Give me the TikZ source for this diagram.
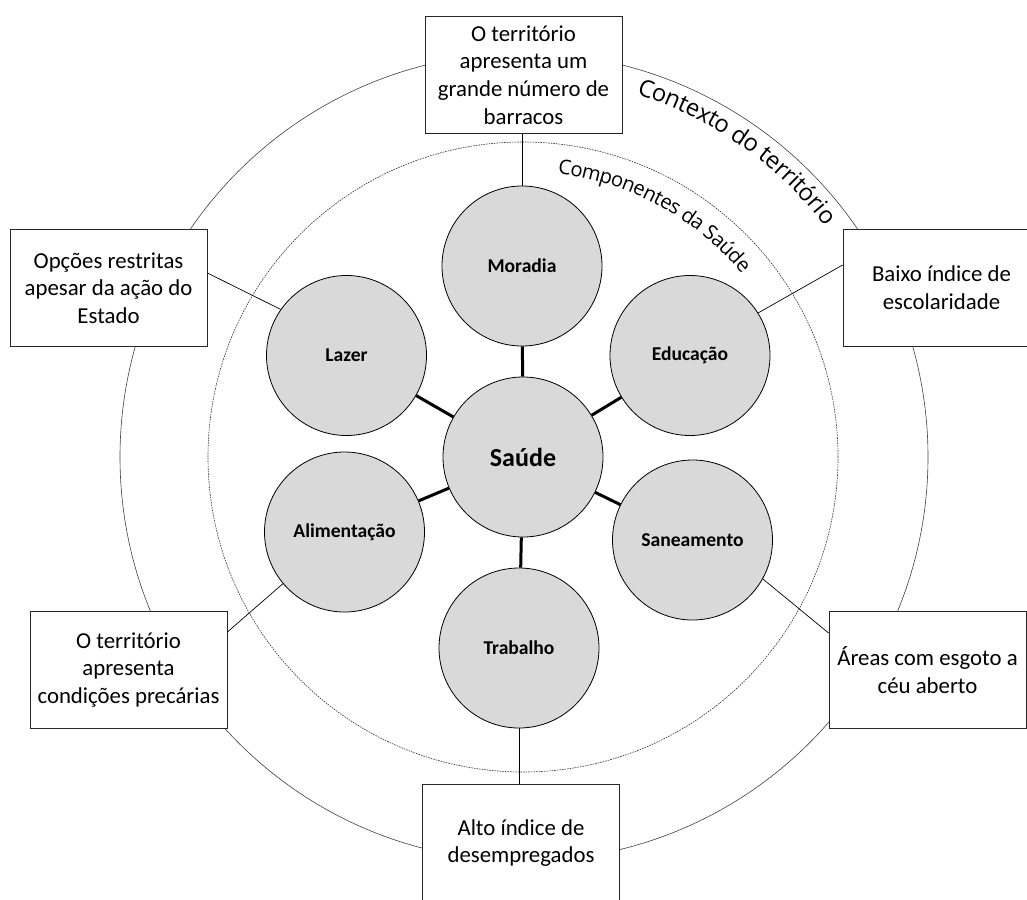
\documentclass[tikz,border=0pt]{standalone}
\usepackage{fontspec}
\setmainfont{Carlito}
\newfontfamily\osans{Open Sans}
\usetikzlibrary{decorations.text}
\definecolor{compgray}{HTML}{D9D9D9}
\begin{document}
\begin{tikzpicture}[x=1pt,y=-1pt,
  box/.style={draw=black!85, line width=0.8pt, fill=white, minimum width=197pt, minimum height=117pt,
    align=center, inner sep=0pt, font={\fontsize{22.8pt}{27.7pt}\selectfont}},
  comp/.style={circle, draw=black, line width=0.8pt, fill=compgray, minimum size=160pt, inner sep=0pt,
    font={\fontsize{19.6pt}{22pt}\selectfont\bfseries}},
  conn/.style={draw=black, line width=0.7pt},
  thickconn/.style={draw=black, line width=3pt},
  outerring/.style={draw=black!75, line width=0.6pt},
  innerring/.style={draw=black!80, line width=0.6pt, dash pattern=on 1.6pt off 1pt}]
\useasboundingbox (0,0) rectangle (1027,899);
% rings
\draw[outerring] (524,457) circle[radius=404pt];
\draw[innerring] (523,457) circle[radius=315pt];
% curved labels
\begin{scope}[shift={(523,457)}, y=1pt]
  \path[decorate, decoration={text along path, text align=center, raise=-15pt,
      text={|\osans\fontsize{23.8pt}{26pt}\selectfont|Contexto do território}}]
    (80:395pt) arc[start angle=80, end angle=30, radius=395pt];
  \path[decorate, decoration={text along path, text align=center, raise=-14.5pt,
      text={|\osans\fontsize{20.2pt}{23pt}\selectfont|Componentes da Saúde}}]
    (86.5:300pt) arc[start angle=86.5, end angle=36.5, radius=300pt];
\end{scope}
% context boxes
\node[box] (top) at (523.5,75) {O território\\apresenta um\\grande número de\\barracos};
\node[box] (opc) at (108.5,288) {Opções restritas\\apesar da ação do\\Estado};
\node[box] (baixo) at (941.5,288) {Baixo índice de\\escolaridade};
\node[box] (lb) at (128.5,670) {O território\\apresenta\\condições precárias};
\node[box] (areas) at (927.5,670) {Áreas com esgoto a\\céu aberto};
\node[box] (bottom) at (521,843) {Alto índice de\\desempregados};
% component circles
\node[comp, font={\fontsize{26pt}{30pt}\selectfont\bfseries}] (saude) at (523,457) {Saúde};
\node[comp] (moradia) at (522,266) {Moradia};
\node[comp] (lazer) at (346.5,355.5) {Lazer};
\node[comp] (educ) at (690,355.5) {Educação};
\node[comp] (alim) at (344.5,532) {Alimentação};
\node[comp] (sane) at (692.5,540) {Saneamento};
\node[comp] (trab) at (519,648) {Trabalho};
% thick connectors
\draw[thickconn] (saude) -- (moradia);
\draw[thickconn] (saude) -- (lazer);
\draw[thickconn] (saude) -- (educ);
\draw[thickconn] (saude) -- (alim);
\draw[thickconn] (saude) -- (sane);
\draw[thickconn] (saude) -- (trab);
% thin connectors
\draw[conn] (moradia.north) -- (moradia.north |- top.south);
\draw[conn] ([yshift=15pt]opc.east) -- (lazer.145);
\draw[conn] ([yshift=23pt]baixo.west) -- (educ.32);
\draw[conn] ([yshift=38pt]lb.east) -- (alim.220);
\draw[conn] ([yshift=37pt]areas.west) -- (sane.-29);
\draw[conn] (trab.south) -- (trab.south |- bottom.north);
\end{tikzpicture}
\end{document}
